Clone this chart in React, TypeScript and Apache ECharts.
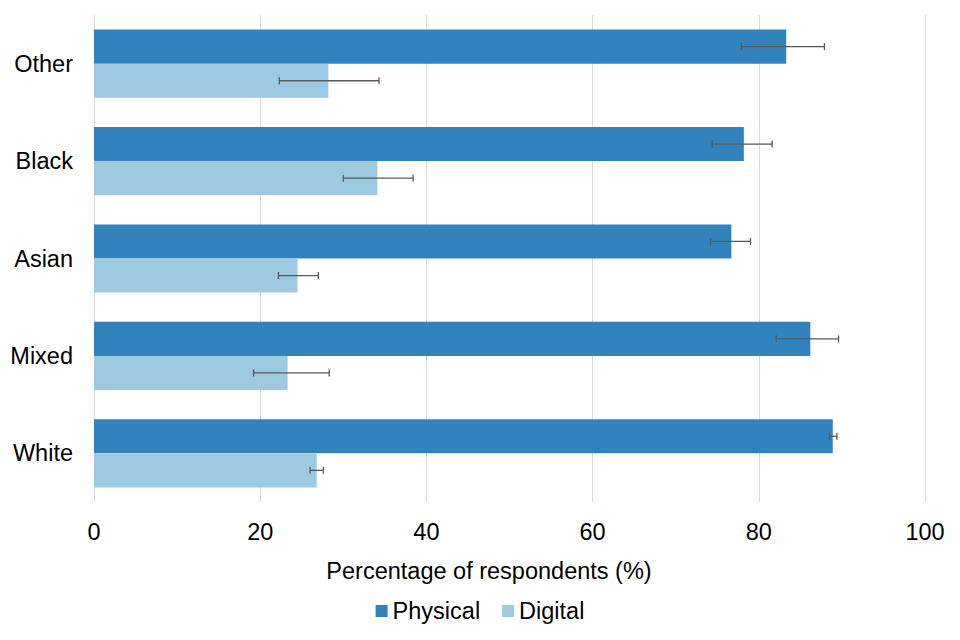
import React, { useEffect, useRef } from "react";
import * as echarts from "echarts";

const categories = ["Other", "Black", "Asian", "Mixed", "White"];
const physical = [83.3, 78.2, 76.7, 86.2, 88.9];
const physicalLow = [77.9, 74.4, 74.2, 82.1, 88.5];
const physicalHigh = [87.9, 81.6, 79.0, 89.6, 89.4];
const digital = [28.2, 34.1, 24.5, 23.3, 26.8];
const digitalLow = [22.3, 30.0, 22.2, 19.2, 26.0];
const digitalHigh = [34.3, 38.4, 27.0, 28.3, 27.6];
const xTicks = [0, 20, 40, 60, 80, 100];

const FONT = "'Liberation Sans', Arial, sans-serif";
const FS = 23.5;

function errorSeries(name: string, low: number[], high: number[], sign: number) {
  return {
    type: "custom",
    name: name + " error",
    silent: true,
    z: 10,
    encode: { x: [1, 2], y: 0 },
    data: categories.map((_, i) => [i, low[i], high[i]]),
    renderItem: (params: any, api: any) => {
      const cat = api.value(0);
      const a = api.coord([api.value(1), cat]);
      const b = api.coord([api.value(2), cat]);
      const band = api.size([0, 1])[1];
      const y = a[1] + sign * band * 0.175;
      const cap = 3.5;
      const style = { stroke: "#595959", lineWidth: 1.3 };
      return {
        type: "group",
        children: [
          { type: "line", shape: { x1: a[0], y1: y, x2: b[0], y2: y }, style },
          { type: "line", shape: { x1: a[0], y1: y - cap, x2: a[0], y2: y + cap }, style },
          { type: "line", shape: { x1: b[0], y1: y - cap, x2: b[0], y2: y + cap }, style },
        ],
      };
    },
  };
}

export default function App() {
  const ref = useRef<HTMLDivElement>(null);
  useEffect(() => {
    if (!ref.current) return;
    const chart = echarts.init(ref.current, null, { renderer: "svg" });
    chart.setOption({
      animation: false,
      backgroundColor: "#ffffff",
      textStyle: { fontFamily: FONT },
      grid: { left: 94, right: 35, top: 15, bottom: 138, containLabel: false },
      legend: {
        bottom: 12,
        left: "center",
        itemWidth: 12,
        itemHeight: 12,
        itemGap: 22,
        icon: "rect",
        data: ["Physical", "Digital"],
        textStyle: { fontSize: FS, color: "#000", fontFamily: FONT, lineHeight: 24 },
      },
      xAxis: {
        type: "value",
        min: xTicks[0],
        max: xTicks[xTicks.length - 1],
        interval: 20,
        name: "Percentage of respondents (%)",
        nameLocation: "middle",
        nameGap: 57,
        nameTextStyle: { fontSize: FS, color: "#000", fontFamily: FONT, lineHeight: 24, padding: [0, 41, 0, 0] },
        axisLine: { show: false },
        axisTick: { show: false },
        axisLabel: { fontSize: FS, color: "#000", margin: 18, fontFamily: FONT },
        splitLine: { show: true, lineStyle: { color: "#d9d9d9", width: 1 } },
      },
      yAxis: {
        type: "category",
        data: categories,
        inverse: true,
        axisLine: { show: false },
        axisTick: { show: false },
        axisLabel: { fontSize: FS, color: "#000", margin: 21, fontFamily: FONT },
      },
      series: [
        {
          type: "bar",
          name: "Physical",
          data: physical,
          barCategoryGap: "30%",
          barGap: "0%",
          itemStyle: { color: "#3182bd" },
        },
        {
          type: "bar",
          name: "Digital",
          data: digital,
          barCategoryGap: "30%",
          barGap: "0%",
          itemStyle: { color: "#9ecae1" },
        },
        errorSeries("Physical", physicalLow, physicalHigh, -1),
        errorSeries("Digital", digitalLow, digitalHigh, 1),
      ],
    });
    return () => chart.dispose();
  }, []);
  return (
    <div
      ref={ref}
      style={{ position: "fixed", left: 0, top: 0, width: 960, height: 640 }}
    />
  );
}
